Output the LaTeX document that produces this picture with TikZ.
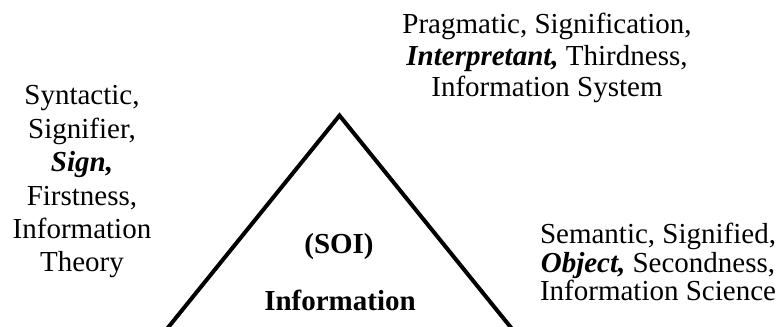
\documentclass[tikz,border=0pt]{standalone}
\usepackage{fontspec}
\setmainfont{Liberation Serif}
\usetikzlibrary{calc}
\begin{document}
\begin{tikzpicture}[x=1pt,y=-1pt,
  lbl/.style={align=center,inner sep=0pt,outer sep=0pt},
  edge/.style={line width=4pt,line join=miter,miter limit=10}]
\useasboundingbox (0,0) rectangle (780,327);
\begin{scope}
  \clip (0,0) rectangle (780,327);
  \coordinate (apex) at (339.5,115.5);
  \coordinate (bl) at ($(apex)!1.2!(168.5,327)$);
  \coordinate (br) at ($(apex)!1.2!(510.5,327)$);
  \draw[edge] (bl) -- (apex) -- (br);
\end{scope}
% vertex labels
\node[lbl,font=\fontsize{29}{31.5}\selectfont] (interp) at (547,58)
  {Pragmatic, Signification,\\ \textbf{\textit{Interpretant,}} Thirdness,\\ Information System};
\node[lbl,font=\fontsize{29}{33.4}\selectfont] (sign) at (82,182)
  {Syntactic,\\ Signifier,\\ \textbf{\textit{Sign,}}\\ Firstness,\\ Information\\ Theory};
\node[lbl,font=\fontsize{29}{28.5}\selectfont] (object) at (658,262)
  {Semantic, Signified,\\ \textbf{\textit{Object,}} Secondness,\\ Information Science};
% centre labels
\node[lbl,anchor=base,font=\fontsize{29}{33}\selectfont\bfseries] (soi) at (339,253) {(SOI)};
\node[lbl,anchor=base,font=\fontsize{29}{33}\selectfont\bfseries] (info) at (340,310) {Information};
\end{tikzpicture}
\end{document}
